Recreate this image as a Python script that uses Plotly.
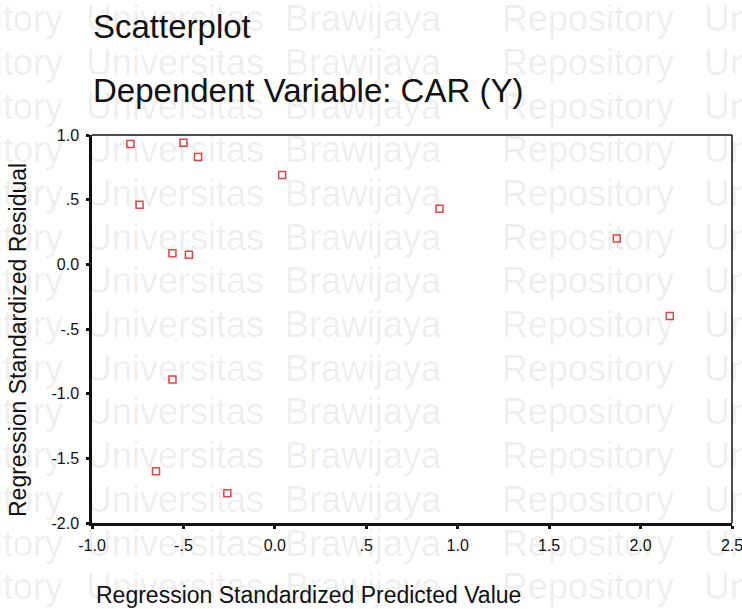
import plotly.graph_objects as go

pred_values = [-0.79, -0.50, -0.42, 0.04, -0.74, -0.56, -0.47, 0.90, 1.87, 2.16, -0.56, -0.65, -0.26]
resid_values = [0.93, 0.94, 0.83, 0.69, 0.46, 0.085, 0.074, 0.43, 0.20, -0.40, -0.89, -1.60, -1.77]

x_tickvals = [-1.0, -0.5, 0.0, 0.5, 1.0, 1.5, 2.0, 2.5]
x_ticktext = ["-1.0", "-.5", "0.0", ".5", "1.0", "1.5", "2.0", "2.5"]
y_tickvals = [1.0, 0.5, 0.0, -0.5, -1.0, -1.5, -2.0]
y_ticktext = ["1.0", ".5", "0.0", "-.5", "-1.0", "-1.5", "-2.0"]

title_lines = ["Scatterplot", "Dependent Variable: CAR (Y)"]
x_title = "Regression Standardized Predicted Value"
y_title = "Regression Standardized Residual"
watermark_words = ["Repository", "Universitas", "Brawijaya", "Repository", "Universitas"]

W, H = 742, 609
L, R, T, B = 92, 10, 135, 86
pw, ph = W - L - R, H - T - B
FONT = "Liberation Sans, Arial, Helvetica, sans-serif"

def px(xp):
    return (xp - L) / pw

def py(yp):
    return (H - B - yp) / ph

fig = go.Figure()
fig.add_trace(go.Scatter(
    x=pred_values, y=resid_values, mode="markers",
    marker=dict(symbol="square-open", size=7, color="#e04848",
                line=dict(width=1.5, color="#e04848")),
    showlegend=False, hoverinfo="x+y",
))

annotations = []
# faint watermark rows
wm_x = [(65, "right"), (84, "left"), (283, "left"), (500, "left"), (702, "left")]
for k in range(14):
    yc = 18.6 + 43.7 * k
    for (xx, anc), word in zip(wm_x, watermark_words):
        annotations.append(dict(
            text=word, xref="paper", yref="paper", x=px(xx), y=py(yc),
            xanchor=anc, yanchor="middle", showarrow=False,
            font=dict(family=FONT, size=36, color="rgba(0,0,0,0.08)"),
        ))

annotations.append(dict(text=title_lines[0], xref="paper", yref="paper",
                        x=px(91), y=py(26), xanchor="left", yanchor="middle",
                        showarrow=False, font=dict(family=FONT, size=33, color="#111")))
annotations.append(dict(text=title_lines[1], xref="paper", yref="paper",
                        x=px(91), y=py(91), xanchor="left", yanchor="middle",
                        showarrow=False, font=dict(family=FONT, size=33, color="#111")))
annotations.append(dict(text=x_title, xref="paper", yref="paper",
                        x=px(94), y=py(595), xanchor="left", yanchor="middle",
                        showarrow=False, font=dict(family=FONT, size=23, color="#111")))
annotations.append(dict(text=y_title, xref="paper", yref="paper",
                        x=px(18), y=py(340), xanchor="center", yanchor="middle",
                        textangle=-90, showarrow=False,
                        font=dict(family=FONT, size=23, color="#111")))

fig.update_layout(
    width=W, height=H,
    margin=dict(l=L, r=R, t=T, b=B, autoexpand=False),
    paper_bgcolor="white", plot_bgcolor="white",
    font=dict(family=FONT, color="#111"),
    annotations=annotations,
    shapes=[
        dict(type="line", xref="paper", yref="paper", x0=0, x1=1, y0=1, y1=1,
             line=dict(color="#111", width=1.5)),
        dict(type="line", xref="paper", yref="paper", x0=1, x1=1, y0=0, y1=1,
             line=dict(color="#111", width=1.5)),
    ],
    xaxis=dict(range=[-1.0, 2.5], tickvals=x_tickvals, ticktext=x_ticktext,
               showgrid=False, zeroline=False, showline=True, linecolor="#111",
               linewidth=2.5, ticks="outside", ticklen=3, tickwidth=2.5,
               tickcolor="#111", tickfont=dict(size=16, color="#111"),
               ticklabelstandoff=3, ticklabeloverflow="allow", automargin=False),
    yaxis=dict(range=[-2.0, 1.0], tickvals=y_tickvals, ticktext=y_ticktext,
               showgrid=False, zeroline=False, showline=True, linecolor="#111",
               linewidth=2.5, ticks="outside", ticklen=3, tickwidth=2.5,
               tickcolor="#111", tickfont=dict(size=16, color="#111"),
               ticklabelstandoff=4, ticklabeloverflow="allow", automargin=False),
)

fig.write_html("out.html", config={"displayModeBar": False},
               post_script="document.body.style.margin='0px';document.body.style.overflow='hidden';")
